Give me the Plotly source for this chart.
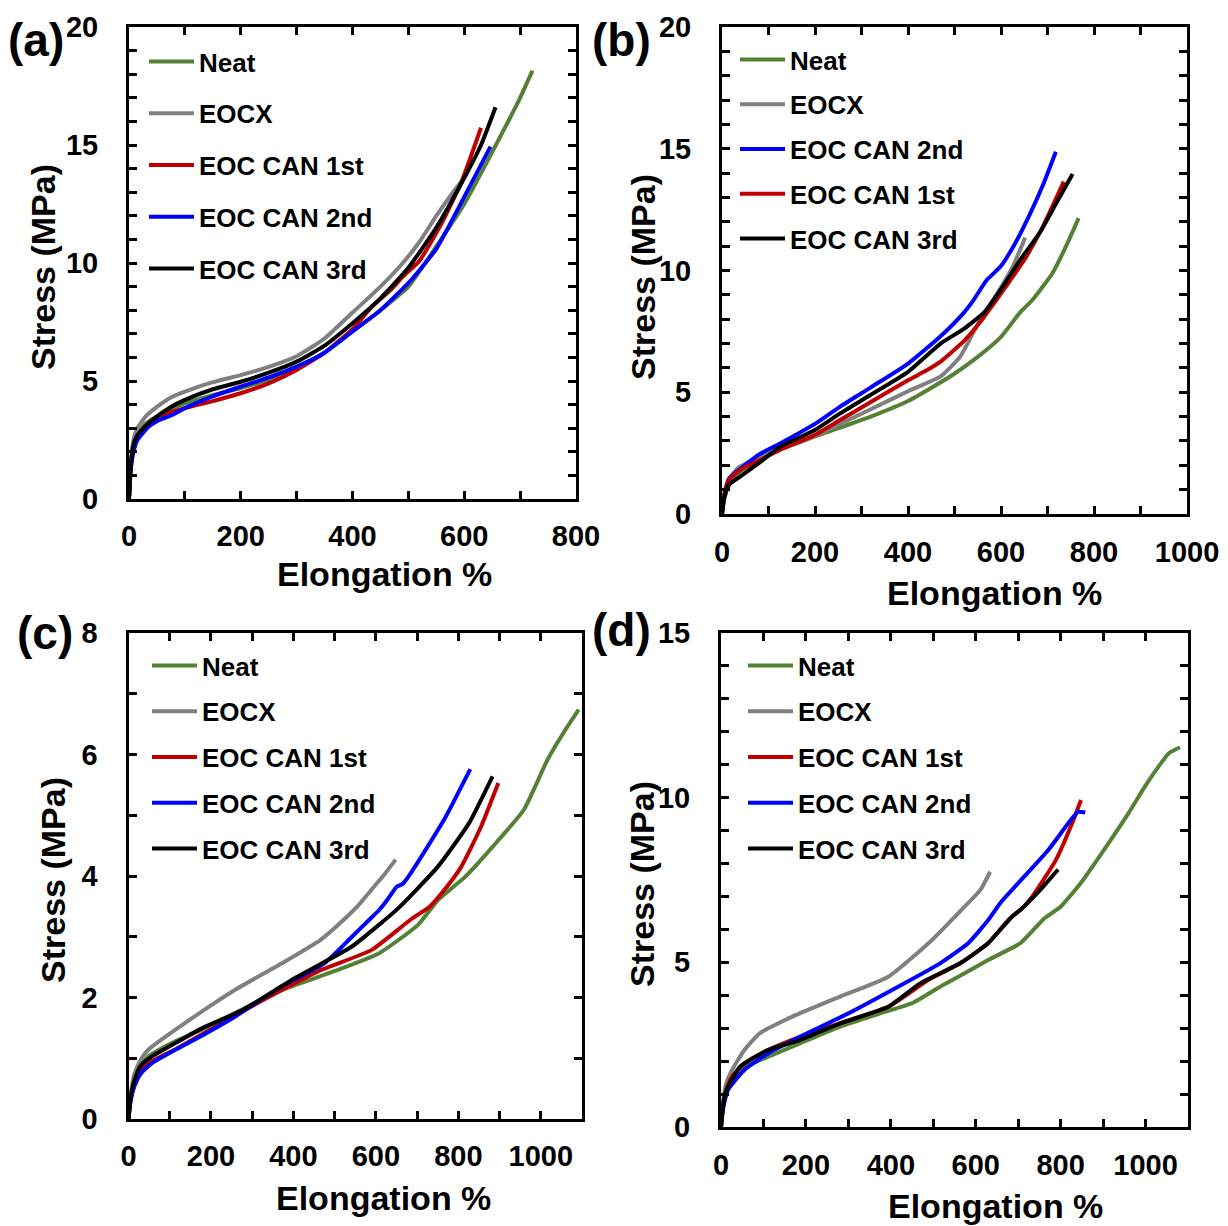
import plotly.graph_objects as go

FONT = "Liberation Sans, Arial, sans-serif"
GREEN = "#548235"
GRAY = "#808080"
RED = "#C00000"
BLUE = "#0000FF"
BLACK = "#000000"

# ---------------- Panel (a) ----------------
a_neat_x = [0, 3, 8, 15, 30, 50, 75, 100, 150, 200, 250, 300, 350, 400, 450, 500, 550, 600, 650, 700, 722]
a_neat_y = [0, 1.3, 2.2, 2.7, 3.2, 3.5, 3.8, 4.05, 4.4, 4.7, 5.05, 5.5, 6.2, 7.1, 8.0, 9.0, 10.7, 12.5, 14.7, 17.0, 18.15]
a_eocx_x = [0, 3, 8, 15, 30, 50, 75, 100, 150, 200, 250, 300, 350, 400, 450, 490, 520, 550, 580, 600]
a_eocx_y = [0, 1.5, 2.5, 3.0, 3.5, 3.9, 4.3, 4.55, 4.95, 5.25, 5.6, 6.05, 6.8, 7.9, 9.0, 10.0, 10.9, 12.0, 13.0, 13.6]
a_1st_x = [0, 3, 8, 15, 30, 50, 70, 100, 150, 200, 250, 300, 350, 400, 435, 470, 490, 520, 560, 596, 630]
a_1st_y = [0, 1.3, 2.1, 2.6, 3.1, 3.4, 3.63, 3.85, 4.15, 4.48, 4.9, 5.47, 6.2, 7.2, 8.15, 8.9, 9.42, 10.1, 11.7, 13.5, 15.73]
a_2nd_x = [0, 3, 8, 15, 35, 50, 77, 100, 150, 200, 250, 300, 350, 400, 450, 505, 550, 600, 647]
a_2nd_y = [0, 1.2, 2.0, 2.5, 3.06, 3.3, 3.56, 3.85, 4.35, 4.76, 5.15, 5.61, 6.2, 7.1, 8.0, 9.28, 10.6, 12.8, 14.93]
a_3rd_x = [0, 3, 8, 15, 30, 50, 75, 100, 150, 200, 250, 300, 350, 400, 450, 500, 550, 600, 630, 656]
a_3rd_y = [0, 1.4, 2.3, 2.7, 3.1, 3.5, 3.9, 4.2, 4.65, 4.97, 5.35, 5.82, 6.5, 7.45, 8.5, 9.8, 11.5, 13.6, 15.0, 16.6]

# ---------------- Panel (b) ----------------
b_neat_x = [0, 5, 15, 30, 50, 82, 150, 254, 320, 401, 495, 550, 599, 642, 668, 711, 740, 767]
b_neat_y = [0, 0.6, 1.2, 1.6, 1.9, 2.25, 2.85, 3.55, 4.0, 4.65, 5.7, 6.45, 7.25, 8.3, 8.8, 9.9, 11.0, 12.15]
b_eocx_x = [0, 5, 15, 30, 39, 80, 125, 200, 254, 320, 401, 470, 512, 556, 590, 625, 652]
b_eocx_y = [0, 0.7, 1.4, 1.8, 1.95, 2.35, 2.65, 3.2, 3.7, 4.3, 5.05, 5.65, 6.46, 8.0, 9.0, 10.15, 11.35]
b_2nd_x = [0, 5, 15, 39, 80, 125, 200, 254, 320, 401, 470, 517, 538, 569, 599, 630, 663, 690, 718]
b_2nd_y = [0, 0.8, 1.45, 1.85, 2.45, 2.9, 3.7, 4.41, 5.2, 6.19, 7.3, 8.2, 8.7, 9.6, 10.16, 11.1, 12.35, 13.5, 14.88]
b_1st_x = [0, 5, 15, 39, 80, 125, 200, 254, 320, 401, 440, 470, 520, 560, 590, 620, 650, 690, 735]
b_1st_y = [0, 0.8, 1.4, 1.81, 2.2, 2.64, 3.25, 3.86, 4.6, 5.5, 5.9, 6.26, 7.1, 8.0, 8.79, 9.6, 10.43, 11.8, 13.65]
b_3rd_x = [0, 5, 15, 39, 80, 125, 200, 254, 320, 401, 470, 520, 565, 599, 640, 685, 720, 754]
b_3rd_y = [0, 0.7, 1.2, 1.53, 2.1, 2.76, 3.45, 4.13, 4.9, 5.85, 7.0, 7.6, 8.3, 9.2, 10.4, 11.6, 12.8, 13.96]

# ---------------- Panel (c) ----------------
c_neat_x = [0, 5, 15, 30, 48, 105, 180, 257, 371, 494, 608, 703, 750, 817, 883, 959, 1016, 1059, 1092]
c_neat_y = [0, 0.35, 0.65, 0.88, 1.03, 1.25, 1.48, 1.74, 2.12, 2.42, 2.73, 3.2, 3.6, 3.99, 4.48, 5.09, 5.91, 6.4, 6.74]
c_eocx_x = [0, 5, 15, 30, 48, 114, 180, 257, 371, 466, 522, 555, 590, 620, 648]
c_eocx_y = [0, 0.4, 0.75, 0.98, 1.14, 1.47, 1.78, 2.12, 2.56, 2.95, 3.28, 3.5, 3.78, 4.02, 4.27]
c_1st_x = [0, 5, 15, 30, 57, 114, 180, 257, 371, 466, 589, 684, 731, 760, 807, 855, 897]
c_1st_y = [0, 0.3, 0.6, 0.82, 0.95, 1.15, 1.4, 1.7, 2.12, 2.45, 2.78, 3.28, 3.5, 3.72, 4.15, 4.81, 5.53]
c_2nd_x = [0, 5, 15, 30, 57, 114, 180, 257, 371, 475, 542, 584, 608, 627, 650, 665, 684, 765, 829]
c_2nd_y = [0, 0.3, 0.55, 0.75, 0.92, 1.14, 1.38, 1.68, 2.18, 2.56, 3.0, 3.28, 3.44, 3.6, 3.82, 3.87, 4.04, 4.92, 5.76]
c_3rd_x = [0, 5, 15, 30, 57, 114, 180, 276, 409, 542, 617, 656, 750, 826, 883]
c_3rd_y = [0, 0.35, 0.65, 0.88, 1.03, 1.25, 1.5, 1.79, 2.34, 2.84, 3.25, 3.48, 4.15, 4.87, 5.64]

# ---------------- Panel (d) ----------------
d_neat_x = [0, 5, 16, 45, 92, 186, 281, 375, 450, 516, 545, 629, 705, 762, 800, 847, 913, 960, 998, 1036, 1055, 1081]
d_neat_y = [0, 0.6, 1.12, 1.73, 2.03, 2.54, 3.05, 3.45, 3.76, 4.26, 4.46, 5.07, 5.58, 6.34, 6.69, 7.4, 8.62, 9.53, 10.33, 11.04, 11.35, 11.53]
d_eocx_x = [0, 5, 12, 26, 55, 92, 168, 281, 394, 497, 563, 611, 634]
d_eocx_y = [0, 0.8, 1.3, 1.73, 2.34, 2.85, 3.35, 3.96, 4.56, 5.68, 6.55, 7.2, 7.75]
d_1st_x = [0, 5, 12, 26, 55, 111, 186, 281, 394, 488, 563, 629, 677, 714, 733, 789, 827, 848]
d_1st_y = [0, 0.7, 1.1, 1.53, 1.93, 2.34, 2.74, 3.15, 3.65, 4.46, 4.97, 5.58, 6.29, 6.7, 6.99, 8.11, 9.22, 9.93]
d_2nd_x = [0, 5, 16, 55, 111, 186, 300, 403, 516, 582, 630, 658, 714, 771, 818, 841, 858]
d_2nd_y = [0, 0.55, 1.12, 1.73, 2.24, 2.74, 3.45, 4.16, 4.97, 5.58, 6.29, 6.8, 7.6, 8.41, 9.22, 9.57, 9.55]
d_3rd_x = [0, 5, 12, 45, 111, 186, 281, 394, 469, 563, 629, 686, 705, 752, 794]
d_3rd_y = [0, 0.65, 1.1, 1.83, 2.34, 2.64, 3.15, 3.65, 4.36, 4.97, 5.58, 6.39, 6.59, 7.2, 7.82]

names = {"neat": "Neat", "eocx": "EOCX", "1st": "EOC CAN 1st", "2nd": "EOC CAN 2nd", "3rd": "EOC CAN 3rd"}
colors = {"neat": GREEN, "eocx": GRAY, "1st": RED, "2nd": BLUE, "3rd": BLACK}

panels = [
    ("a", "x", "y", "legend", [("neat", a_neat_x, a_neat_y), ("eocx", a_eocx_x, a_eocx_y),
                               ("1st", a_1st_x, a_1st_y), ("2nd", a_2nd_x, a_2nd_y), ("3rd", a_3rd_x, a_3rd_y)]),
    ("b", "x2", "y2", "legend2", [("neat", b_neat_x, b_neat_y), ("eocx", b_eocx_x, b_eocx_y),
                                  ("2nd", b_2nd_x, b_2nd_y), ("1st", b_1st_x, b_1st_y), ("3rd", b_3rd_x, b_3rd_y)]),
    ("c", "x3", "y3", "legend3", [("neat", c_neat_x, c_neat_y), ("eocx", c_eocx_x, c_eocx_y),
                                  ("1st", c_1st_x, c_1st_y), ("2nd", c_2nd_x, c_2nd_y), ("3rd", c_3rd_x, c_3rd_y)]),
    ("d", "x4", "y4", "legend4", [("neat", d_neat_x, d_neat_y), ("eocx", d_eocx_x, d_eocx_y),
                                  ("1st", d_1st_x, d_1st_y), ("2nd", d_2nd_x, d_2nd_y), ("3rd", d_3rd_x, d_3rd_y)]),
]

fig = go.Figure()
for pid, xa, ya, lg, series in panels:
    for key, xs, ys in series:
        fig.add_trace(go.Scatter(
            x=xs, y=ys, mode="lines", name=names[key],
            line=dict(color=colors[key], width=4, shape="spline", smoothing=0.5),
            xaxis=xa, yaxis=ya, legend=lg, legendgroup=pid + key,
        ))

W, H = 1228, 1226


def px(v):
    return v / W


def py(v):
    return 1 - v / H


tickfont = dict(size=29, family=FONT, weight="bold", color="black")


def axis(rng, dtick, minor, domain, anchor, standoff):
    return dict(
        range=rng, domain=domain, anchor=anchor, showline=True, linecolor="black", linewidth=3,
        mirror="allticks", ticks="inside", ticklen=8, tickwidth=2.5, tickcolor="black",
        tick0=0, dtick=dtick, automargin=False,
        minor=dict(tick0=0, dtick=minor, ticks="inside", ticklen=8, tickwidth=2.5, tickcolor="black", showgrid=False),
        showgrid=False, zeroline=False, tickfont=tickfont, ticklabelstandoff=standoff,
    )


layout = dict(
    width=W, height=H, margin=dict(l=0, r=0, t=0, b=0, autoexpand=False),
    paper_bgcolor="white", plot_bgcolor="white", showlegend=True,
    xaxis=axis([0, 800], 200, 100, [px(129), px(576)], "y", 9),
    yaxis=axis([0, 20], 5, 1, [py(499), py(27)], "x", 22),
    xaxis2=axis([0, 1000], 200, 100, [px(722), px(1187)], "y2", 10),
    yaxis2=axis([0, 20], 5, 1, [py(514), py(27)], "x2", 22),
    xaxis3=axis([0, 1100], 200, 100, [px(128.5), px(582)], "y3", 9),
    yaxis3=axis([0, 8], 2, 1, [py(1119), py(633)], "x3", 22),
    xaxis4=axis([0, 1100], 200, 100, [px(721), px(1188)], "y4", 10),
    yaxis4=axis([0, 15], 5, 1, [py(1127), py(633)], "x4", 22),
)

legfont = dict(size=26, family=FONT, weight="bold", color="black")


def legend(xl, ytop, gap):
    return dict(x=px(xl), y=py(ytop), xanchor="left", yanchor="top", bgcolor="rgba(0,0,0,0)",
                font=legfont, tracegroupgap=gap, itemwidth=45, borderwidth=0)


layout["legend"] = legend(144, 38, 15)
layout["legend2"] = legend(735, 36, 8)
layout["legend3"] = legend(147, 642, 9)
layout["legend4"] = legend(743, 642, 9)

fig.update_layout(**layout)

title_font = dict(size=34, family=FONT, weight="bold", color="black")
label_font = dict(size=46, family=FONT, weight="bold", color="black")

ann = []
for (cx, cy) in [(385, 574), (994, 593), (383, 1198), (995, 1206)]:
    ann.append(dict(text="Elongation %", x=px(cx), y=py(cy), xref="paper", yref="paper",
                    showarrow=False, font=title_font, xanchor="center", yanchor="middle"))
for (cx, cy) in [(43, 267), (643, 277), (53, 880), (642, 884)]:
    ann.append(dict(text="Stress (MPa)", x=px(cx), y=py(cy), xref="paper", yref="paper",
                    showarrow=False, font=title_font, textangle=-90, xanchor="center", yanchor="middle"))
for lab, (cx, cy) in zip(["(a)", "(b)", "(c)", "(d)"], [(36, 40), (621, 40), (45, 633), (621, 630)]):
    ann.append(dict(text=lab, x=px(cx), y=py(cy), xref="paper", yref="paper",
                    showarrow=False, font=label_font, xanchor="center", yanchor="middle"))
fig.update_layout(annotations=ann)

fig.write_html("out.html")
